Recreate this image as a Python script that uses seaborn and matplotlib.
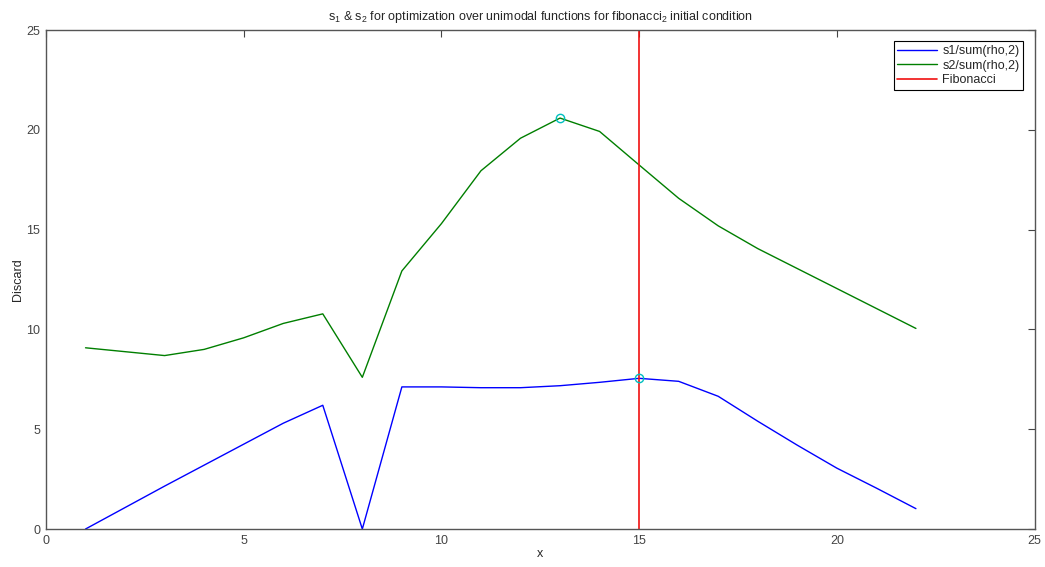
import numpy as np
import pandas as pd
import matplotlib
matplotlib.use("Agg")
import matplotlib.pyplot as plt
import seaborn as sns

# ---- data ----
x_vals = [1, 3, 4, 5, 6, 7, 8, 9, 10, 11, 12, 13, 14, 15, 16, 17, 18, 19, 20, 21, 22]
s1_vals = [0.0, 2.15, 3.2, 4.25, 5.3, 6.2, 0.0, 7.12, 7.12, 7.08, 7.08, 7.18, 7.35, 7.55,
           7.4, 6.65, 5.4, 4.2, 3.05, 2.05, 1.02]
s2_vals = [9.08, 8.69, 9.0, 9.58, 10.3, 10.78, 7.6, 12.93, 15.3, 17.95, 19.58, 20.59, 19.92,
           18.24, 16.57, 15.19, 14.05, 13.05, 12.05, 11.05, 10.05]
series_names = ["s1/sum(rho,2)", "s2/sum(rho,2)"]
fib_x = 15
fib_label = "Fibonacci"
max_pts_x = [13, 15]
max_pts_y = [20.59, 7.55]
x_ticks = [0, 5, 10, 15, 20, 25]
y_ticks = [0, 5, 10, 15, 20, 25]
title = "s$_1$ & s$_2$ for optimization over unimodal functions for fibonacci$_2$ initial condition"

sns.set_style("white")
plt.rcParams["font.family"] = ["Liberation Sans", "DejaVu Sans"]
plt.rcParams["mathtext.default"] = "regular"

df = pd.DataFrame({
    "x": x_vals * 2,
    "value": s1_vals + s2_vals,
    "series": [series_names[0]] * len(x_vals) + [series_names[1]] * len(x_vals),
})

fig = plt.figure(figsize=(10.45, 5.67), dpi=100)
ax = fig.add_axes([0.044, 0.067, 0.946, 0.880])

sns.lineplot(data=df, x="x", y="value", hue="series",
             palette={series_names[0]: "#0000ff", series_names[1]: "#007f00"},
             linewidth=1.0, ax=ax, estimator=None, sort=False)
ax.axvline(fib_x, color="#f01010", linewidth=1.2, label=fib_label)
ax.plot(max_pts_x, max_pts_y, linestyle="none", marker="o", markersize=6,
        markerfacecolor="none", markeredgecolor="#00bfbf", markeredgewidth=1.0)

ax.set_xlim(0, 25)
ax.set_ylim(0, 25)
ax.set_xticks(x_ticks)
ax.set_yticks(y_ticks)
ax.tick_params(direction="in", length=5, width=0.8, top=True, right=True,
               labelsize=9, colors="#444444", pad=4)
for s in ax.spines.values():
    s.set_visible(True)
    s.set_color("#555555")
    s.set_linewidth(1.0)

ax.set_xlabel("x", fontsize=9, labelpad=1)
ax.set_ylabel("Discard", fontsize=9, labelpad=2)
ax.set_title(title, fontsize=9, pad=7)

handles, labels = ax.get_legend_handles_labels()
leg = ax.legend(handles, labels, loc="upper right", fontsize=9, frameon=True,
                fancybox=False, edgecolor="black", framealpha=1,
                handlelength=3.2, borderpad=0.3, labelspacing=0.2,
                borderaxespad=0.9, handletextpad=0.4)
leg.get_frame().set_linewidth(0.8)

fig.savefig("out.png", dpi=100, facecolor="white")
